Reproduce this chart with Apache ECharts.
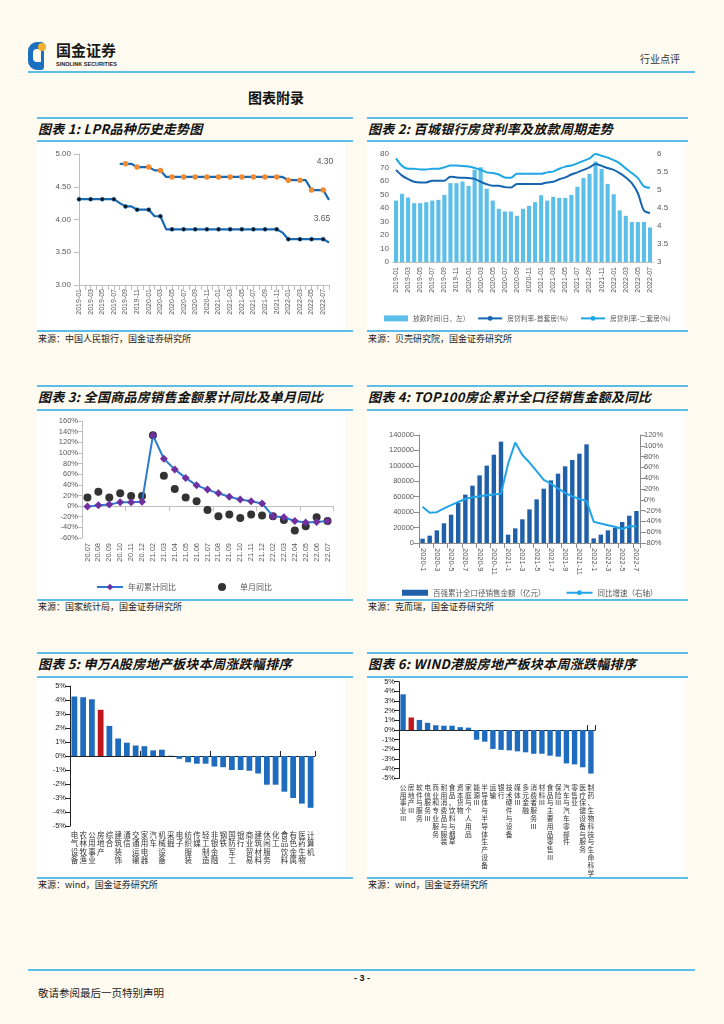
<!DOCTYPE html>
<html><head><meta charset="utf-8">
<script src="https://cdn.jsdelivr.net/npm/echarts@6/dist/echarts.min.js"></script>
<style>
body{margin:0;background:#fffbf0;width:724px;height:1024px;position:relative;overflow:hidden;font-family:"Noto Sans CJK SC",sans-serif;}
.bl{position:absolute;height:2px;background:#5cbde9;}
.card{position:absolute;background:#ffffff;}
.ttl{position:absolute;font-size:13px;line-height:15px;font-weight:bold;font-style:italic;color:#111;white-space:nowrap;letter-spacing:0.3px;}
.src{position:absolute;font-size:9px;line-height:11px;color:#222;white-space:nowrap;}
.t{position:absolute;white-space:nowrap;}
</style></head>
<body>
<!-- header -->
<div class="t" style="left:28px;top:42px;width:16px;height:28px;background:#1a6fc0;border-radius:9px 3px 3px 9px;"></div>
<div class="t" style="left:33px;top:49px;width:8px;height:13px;background:#fffbf0;border-radius:4px 0 0 4px;"></div>
<div class="t" style="left:38px;top:43px;width:8px;height:8px;background:#f0b030;border-radius:4px;"></div>
<div class="t" style="left:56px;top:41px;font-size:15px;line-height:18px;font-weight:bold;color:#1a1a1a;">国金证券</div>
<div class="t" style="left:56px;top:61px;font-size:5.5px;line-height:7px;font-weight:bold;color:#1a1a1a;font-family:'Liberation Sans',sans-serif;">SINOLINK SECURITIES</div>
<div class="t" style="left:640px;top:53px;font-size:10px;line-height:12px;color:#333;">行业点评</div>
<div class="bl" style="left:28px;top:71px;width:667px;"></div>
<div class="t" style="left:248px;top:89px;font-size:14px;line-height:16px;font-weight:bold;color:#111;">图表附录</div>

<!-- row 1 -->
<div class="bl" style="left:37px;top:117px;width:316px;"></div>
<div class="bl" style="left:367px;top:117px;width:321px;"></div>
<div class="ttl" style="left:38px;top:121px;">图表 1:  LPR品种历史走势图</div>
<div class="ttl" style="left:368px;top:121px;">图表 2:  百城银行房贷利率及放款周期走势</div>
<div class="bl" style="left:37px;top:140px;width:316px;"></div>
<div class="bl" style="left:367px;top:140px;width:321px;"></div>
<div id="c1" class="card" style="left:37px;top:142px;width:308px;height:188px;"></div>
<div id="c2" class="card" style="left:367px;top:142px;width:318px;height:188px;"></div>
<div class="bl" style="left:37px;top:330px;width:316px;"></div>
<div class="bl" style="left:367px;top:330px;width:321px;"></div>
<div class="src" style="left:38px;top:333px;">来源：中国人民银行，国金证券研究所</div>
<div class="src" style="left:368px;top:333px;">来源：贝壳研究院，国金证券研究所</div>

<!-- row 2 -->
<div class="bl" style="left:37px;top:385px;width:316px;"></div>
<div class="bl" style="left:367px;top:385px;width:321px;"></div>
<div class="ttl" style="left:38px;top:389px;">图表 3:  全国商品房销售金额累计同比及单月同比</div>
<div class="ttl" style="left:368px;top:389px;">图表 4:  TOP100房企累计全口径销售金额及同比</div>
<div class="bl" style="left:37px;top:409px;width:316px;"></div>
<div class="bl" style="left:367px;top:409px;width:321px;"></div>
<div id="c3" class="card" style="left:37px;top:411px;width:308px;height:188px;"></div>
<div id="c4" class="card" style="left:367px;top:411px;width:318px;height:188px;"></div>
<div class="bl" style="left:37px;top:599px;width:316px;"></div>
<div class="bl" style="left:367px;top:599px;width:321px;"></div>
<div class="src" style="left:38px;top:601px;">来源：国家统计局，国金证券研究所</div>
<div class="src" style="left:368px;top:601px;">来源：克而瑞，国金证券研究所</div>

<!-- row 3 -->
<div class="bl" style="left:37px;top:652px;width:316px;"></div>
<div class="bl" style="left:367px;top:652px;width:321px;"></div>
<div class="ttl" style="left:38px;top:656px;">图表 5:  申万A股房地产板块本周涨跌幅排序</div>
<div class="ttl" style="left:368px;top:656px;">图表 6:  WIND港股房地产板块本周涨跌幅排序</div>
<div class="bl" style="left:37px;top:676px;width:316px;"></div>
<div class="bl" style="left:367px;top:676px;width:321px;"></div>
<div id="c5" class="card" style="left:37px;top:678px;width:308px;height:199px;"></div>
<div id="c6" class="card" style="left:367px;top:678px;width:318px;height:199px;"></div>
<div class="bl" style="left:37px;top:877px;width:316px;"></div>
<div class="bl" style="left:367px;top:877px;width:321px;"></div>
<div class="src" style="left:38px;top:879px;">来源：wind，国金证券研究所</div>
<div class="src" style="left:368px;top:879px;">来源：wind，国金证券研究所</div>

<!-- footer -->
<div class="bl" style="left:28px;top:969px;width:667px;"></div>
<div class="t" style="left:342px;top:973px;width:40px;text-align:center;font-size:9px;line-height:11px;font-weight:bold;color:#111;font-family:'Liberation Sans',sans-serif;">- 3 -</div>
<div class="t" style="left:38px;top:986px;font-size:10.5px;line-height:13px;color:#222;">敬请参阅最后一页特别声明</div>

<script>
// ---------- Chart 1 data: LPR ----------
var lprMonths = ['2019-01','2019-02','2019-03','2019-04','2019-05','2019-06','2019-07','2019-08','2019-09','2019-10','2019-11','2019-12',
 '2020-01','2020-02','2020-03','2020-04','2020-05','2020-06','2020-07','2020-08','2020-09','2020-10','2020-11','2020-12',
 '2021-01','2021-02','2021-03','2021-04','2021-05','2021-06','2021-07','2021-08','2021-09','2021-10','2021-11','2021-12',
 '2022-01','2022-02','2022-03','2022-04','2022-05','2022-06','2022-07','2022-08'];
var lpr1y = [4.31,4.31,4.31,4.31,4.31,4.31,4.31,4.25,4.20,4.20,4.15,4.15,
 4.15,4.05,4.05,3.85,3.85,3.85,3.85,3.85,3.85,3.85,3.85,3.85,
 3.85,3.85,3.85,3.85,3.85,3.85,3.85,3.85,3.85,3.85,3.85,3.80,
 3.70,3.70,3.70,3.70,3.70,3.70,3.70,3.65];
var lpr5y = [null,null,null,null,null,null,null,4.85,4.85,4.85,4.80,4.80,
 4.80,4.75,4.75,4.65,4.65,4.65,4.65,4.65,4.65,4.65,4.65,4.65,
 4.65,4.65,4.65,4.65,4.65,4.65,4.65,4.65,4.65,4.65,4.65,4.65,
 4.60,4.60,4.60,4.60,4.45,4.45,4.45,4.30];

// ---------- Chart 2 data: mortgage ----------
var loanMonths = ['2019-01','2019-02','2019-03','2019-04','2019-05','2019-06','2019-07','2019-08','2019-09','2019-10','2019-11','2019-12',
 '2020-01','2020-02','2020-03','2020-04','2020-05','2020-06','2020-07','2020-08','2020-09','2020-10','2020-11','2020-12',
 '2021-01','2021-02','2021-03','2021-04','2021-05','2021-06','2021-07','2021-08','2021-09','2021-10','2021-11','2021-12',
 '2022-01','2022-02','2022-03','2022-04','2022-05','2022-06','2022-07'];
var loanDays = [45.5,50.5,47.8,43.6,43.6,44.3,45.5,46,49.7,58.4,58.4,59.6,
 56.4,68.2,70.2,54.2,45.5,39.4,37.4,37.4,34.2,39.4,41.6,44.3,
 49.5,45.5,48.3,47.5,47.5,49.7,55.7,62.3,65.3,74.4,69,57.9,
 50.2,38.2,34.2,29.6,29.6,29.6,25.6];
var rateFirst = [5.56,5.40,5.30,5.23,5.21,5.21,5.26,5.26,5.26,5.37,5.35,5.34,
 5.33,5.31,5.23,5.16,5.12,5.12,5.08,5.07,5.17,5.17,5.17,5.17,
 5.17,5.21,5.23,5.30,5.35,5.43,5.49,5.56,5.63,5.72,5.67,5.61,
 5.56,5.47,5.35,5.19,4.91,4.43,4.36];
var rateSecond = [5.88,5.67,5.59,5.59,5.57,5.57,5.59,5.59,5.63,5.68,5.68,5.67,
 5.65,5.61,5.56,5.49,5.47,5.43,5.35,5.34,5.45,5.45,5.45,5.45,
 5.45,5.49,5.51,5.59,5.65,5.68,5.74,5.81,5.88,6.00,5.95,5.90,
 5.83,5.74,5.60,5.47,5.33,5.10,5.06];

// ---------- Chart 3 data: sales YoY ----------
var salesMonths = ['20.07','20.08','20.09','20.10','20.11','20.12','21.02','21.03','21.04','21.05','21.06','21.07',
 '21.08','21.09','21.10','21.11','21.12','22.02','22.03','22.04','22.05','22.06','22.07'];
var ytdYoY = [-1,1.5,3,7,7,8,133,89,69,53,39,31,24,17.5,12.5,9,5,-19,-21,-28,-31,-30,-28];
var monthYoY = [16,27,16,24,19,19,133,57,32,16,9,-7.5,-19,-16,-22.5,-15.6,-17.5,-19,-26,-46,-38,-21,-28];

// ---------- Chart 4 data: TOP100 ----------
var top100Months = ['2020-1','2020-2','2020-3','2020-4','2020-5','2020-6','2020-7','2020-8','2020-9','2020-10','2020-11','2020-12',
 '2021-1','2021-2','2021-3','2021-4','2021-5','2021-6','2021-7','2021-8','2021-9','2021-10','2021-11','2021-12',
 '2022-1','2022-2','2022-3','2022-4','2022-5','2022-6','2022-7'];
var top100Sales = [5600,9500,16400,25500,36700,51900,62700,74300,87700,100300,114500,131400,
 10800,19000,30700,43600,56600,70400,81200,89900,99400,107600,115800,127900,
 6000,10800,16400,19900,27200,35400,41500];
var top100YoY = [-13,-24,-23,-16,-10,-4,1.5,4.6,6.4,8.3,10,11.4,
 67,106,83,69,53,37,30,21,13,6.4,1.5,-2,
 -40.5,-44,-47,-50,-54,-49,-49];

// ---------- Chart 5 data: SW A-share industries ----------
var swNames = ['电气设备','农林牧渔','公用事业','房地产','综合','建筑装饰','通信','交通运输','家用电器','汽车','机械设备','采掘',
 '电子','纺织服装','传媒','轻工制造','非银金融','钢铁','国防军工','银行','商业贸易','建筑材料','休闲服务','化工','食品饮料','有色金属','医药生物','计算机'];
var swChange = [4.25,4.2,4.05,3.3,2.15,1.25,0.95,0.75,0.7,0.4,0.45,0.02,
 -0.2,-0.45,-0.55,-0.55,-0.75,-0.8,-1.0,-1.0,-1.05,-1.25,-2.05,-2.05,-2.55,-3.0,-3.4,-3.7];
var swHighlight = '房地产';

// ---------- Chart 6 data: Wind HK industries ----------
var hkNames = ['公用事业Ⅲ','房地产Ⅲ','软件与服务','电信服务Ⅲ','商业和专业服务','耐用消费品与服装','食品、饮料与烟草','资本货物','家庭与个人用品',
 '能源Ⅲ','半导体与半导体生产设备','运输','银行','技术硬件与设备','媒体Ⅲ','多元金融','消费者服务Ⅲ','材料Ⅲ','食品与主要用品零售Ⅲ',
 '保险Ⅲ','汽车与汽车零部件','零售业','医疗保健设备与服务','制药、生物科技与生命科学'];
var hkChange = [3.7,1.3,1.05,0.75,0.5,0.45,0.45,0.3,0.25,-1.0,-1.2,-1.95,-2.05,-2.1,-2.2,-2.3,-2.45,-2.45,-2.65,-2.75,-3.45,-3.55,-3.85,-4.5];
var hkHighlight = '房地产Ⅲ';

// ---------- helpers ----------
var FONT = 'Liberation Sans, Noto Sans CJK SC, sans-serif';
var CJK = 'Noto Sans CJK SC, sans-serif';
var GRAY = '#595959';
function mk(id, opt){ var c = echarts.init(document.getElementById(id), null, {renderer:'canvas'}); opt.animation = false; c.setOption(opt); return c; }
function vert(s){ return s.split('').join('\n'); }

// ---------- Chart 1 ----------
var ch1 = mk('c1', {
  grid:{left:42, top:12, right:16, bottom:45},
  xAxis:{type:'category', data:lprMonths, boundaryGap:false,
    axisLine:{lineStyle:{color:'#bfbfbf'}}, axisTick:{show:true, interval:0, lineStyle:{color:'#bfbfbf'}},
    axisLabel:{rotate:90, interval:1, fontSize:7, color:GRAY, fontFamily:FONT, margin:4}},
  yAxis:{type:'value', min:3, max:5, interval:0.5, splitLine:{show:false},
    axisLine:{show:true, lineStyle:{color:'#bfbfbf'}}, axisTick:{show:true, lineStyle:{color:'#bfbfbf'}},
    axisLabel:{formatter:function(v){return v.toFixed(2);}, fontSize:8, color:GRAY, fontFamily:FONT}},
  series:[
    {type:'line', data:lpr1y,
     symbol:'circle', symbolSize:4, lineStyle:{color:'#1769b3', width:2.2},
     itemStyle:{color:'#111', borderColor:'#1769b3', borderWidth:0.6}},
    {type:'line', data:lpr5y,
     symbol:'circle', symbolSize:5.5, lineStyle:{color:'#1769b3', width:2.2},
     itemStyle:{color:'#f28a30', borderWidth:0}}
  ]
});
// end-value annotations placed at the library's pixel position of the last points
(function(){
  var i1 = lpr1y.length - 1, i5 = lpr5y.length - 1;
  var p1 = ch1.convertToPixel({seriesIndex:0}, [i1, lpr1y[i1]]);
  var p5 = ch1.convertToPixel({seriesIndex:1}, [i5, lpr5y[i5]]);
  ch1.setOption({graphic:[
    {type:'text', x:p5[0] - 4, y:p5[1] - 38, style:{text:lpr5y[i5].toFixed(2), fill:GRAY, font:'8.5px Liberation Sans', textAlign:'center', textVerticalAlign:'middle'}},
    {type:'text', x:p1[0] - 7, y:p1[1] - 24, style:{text:lpr1y[i1].toFixed(2), fill:GRAY, font:'8.5px Liberation Sans', textAlign:'center', textVerticalAlign:'middle'}}
  ]});
})();

// ---------- Chart 2 ----------
mk('c2', {
  grid:{left:26, top:12, right:32, bottom:68},
  legend:{left:12, top:168, width:310, itemGap:12, itemHeight:6, itemWidth:24, textStyle:{fontSize:6.8, color:GRAY, fontFamily:CJK},
    data:[{name:'放款时间(日，左)', icon:'rect'}, {name:'房贷利率-首套房(%)'}, {name:'房贷利率-二套房(%)'}]},
  xAxis:{type:'category', data:loanMonths,
    axisLine:{lineStyle:{color:'#bfbfbf'}}, axisTick:{show:false},
    axisLabel:{rotate:90, interval:1, fontSize:7, color:GRAY, fontFamily:FONT, margin:5}},
  yAxis:[
    {type:'value', min:0, max:80, interval:10, splitLine:{show:false}, axisLine:{show:false}, axisTick:{show:false},
     axisLabel:{fontSize:8, color:GRAY, fontFamily:FONT, margin:4}},
    {type:'value', min:3, max:6, interval:0.5, splitLine:{show:false}, axisLine:{show:false}, axisTick:{show:false},
     axisLabel:{fontSize:8, color:GRAY, fontFamily:FONT, margin:4}}
  ],
  series:[
    {name:'放款时间(日，左)', type:'bar', data:loanDays, barWidth:'68%', itemStyle:{color:'#5cbfea'}},
    {name:'房贷利率-首套房(%)', type:'line', yAxisIndex:1, data:rateFirst, symbol:'none', smooth:0.3, lineStyle:{color:'#1565b0', width:2}, itemStyle:{color:'#1565b0'}},
    {name:'房贷利率-二套房(%)', type:'line', yAxisIndex:1, data:rateSecond, symbol:'none', smooth:0.3, lineStyle:{color:'#1ea6e6', width:2}, itemStyle:{color:'#1ea6e6'}}
  ]
});

// ---------- Chart 3 ----------
mk('c3', {
  grid:{left:45, top:10, right:12, bottom:61},
  legend:{left:54, top:167, itemGap:42, itemWidth:26, itemHeight:8, textStyle:{fontSize:8, color:GRAY, fontFamily:CJK},
    data:['年初累计同比','单月同比']},
  xAxis:[
    {type:'category', data:salesMonths, position:'bottom', axisLine:{show:false, onZero:false}, axisTick:{show:false},
     axisLabel:{rotate:90, interval:0, fontSize:7.5, color:GRAY, fontFamily:FONT, margin:5}},
    {type:'category', data:salesMonths, position:'bottom', axisLine:{show:true, onZero:true, lineStyle:{color:'#bfbfbf'}},
     axisTick:{show:true, lineStyle:{color:'#bfbfbf'}}, axisLabel:{show:false}}
  ],
  yAxis:{type:'value', min:-60, max:160, interval:20, splitLine:{show:false},
    axisLine:{show:true, lineStyle:{color:'#bfbfbf'}}, axisTick:{show:true, lineStyle:{color:'#bfbfbf'}},
    axisLabel:{formatter:'{value}%', fontSize:7.5, color:GRAY, fontFamily:FONT, margin:4}},
  series:[
    {name:'年初累计同比', type:'line', data:ytdYoY, symbol:'diamond', symbolSize:8,
     lineStyle:{color:'#2b7bd0', width:2}, itemStyle:{color:'#7030a0'}},
    {name:'单月同比', type:'scatter', data:monthYoY, symbol:'circle', symbolSize:8, itemStyle:{color:'#000'}}
  ]
});

// ---------- Chart 4 ----------
mk('c4', {
  grid:{left:52, top:24, right:45, bottom:56},
  legend:{left:30, top:173, itemGap:20, itemWidth:26, itemHeight:6, textStyle:{fontSize:7.5, color:GRAY, fontFamily:CJK},
    data:[{name:'百强累计全口径销售金额（亿元）', icon:'rect'}, {name:'同比增速（右轴）'}]},
  xAxis:{type:'category', data:top100Months,
    axisLine:{lineStyle:{color:'#8c8c8c'}}, axisTick:{show:true, lineStyle:{color:'#8c8c8c'}},
    axisLabel:{rotate:-90, interval:1, fontSize:7.5, color:GRAY, fontFamily:FONT, margin:5}},
  yAxis:[
    {type:'value', min:0, max:140000, interval:20000, splitLine:{show:false},
     axisLine:{show:true, lineStyle:{color:'#8c8c8c'}}, axisTick:{show:true, lineStyle:{color:'#8c8c8c'}},
     axisLabel:{formatter:function(v){ return String(v); }, fontSize:7.5, color:GRAY, fontFamily:FONT, margin:5}},
    {type:'value', min:-80, max:120, interval:20, splitLine:{show:false},
     axisLine:{show:true, lineStyle:{color:'#8c8c8c'}}, axisTick:{show:true, lineStyle:{color:'#8c8c8c'}},
     axisLabel:{formatter:'{value}%', fontSize:7.5, color:GRAY, fontFamily:FONT, margin:4}}
  ],
  series:[
    {name:'百强累计全口径销售金额（亿元）', type:'bar', data:top100Sales, barWidth:'62%', itemStyle:{color:'#1f60a9'}},
    {name:'同比增速（右轴）', type:'line', yAxisIndex:1, data:top100YoY, symbol:'none', lineStyle:{color:'#22a5e8', width:2}, itemStyle:{color:'#22a5e8'}}
  ]
});

// ---------- Chart 5 & 6 ----------
function rankOpt(names, values, highlight, grid, fs, lh){
  return {
    grid:grid,
    xAxis:[
      {type:'category', data:names, position:'bottom', axisLine:{show:false, onZero:false}, axisTick:{show:false},
       axisLabel:{interval:0, fontSize:fs, lineHeight:lh, color:'#333', fontFamily:CJK, margin:5, verticalAlign:'top', formatter:vert}},
      {type:'category', data:names, position:'bottom', axisLine:{show:true, onZero:true, lineStyle:{color:'#222'}},
       axisTick:{show:true, inside:true, lineStyle:{color:'#222'}}, axisLabel:{show:false}}
    ],
    yAxis:{type:'value', min:-5, max:5, interval:1, splitLine:{show:false},
      axisLine:{show:true, lineStyle:{color:'#222'}}, axisTick:{show:true, lineStyle:{color:'#222'}},
      axisLabel:{formatter:'{value}%', fontSize:7.5, color:'#222', fontFamily:FONT, margin:4}},
    series:[{type:'bar', barWidth:'66%',
      data:values.map(function(v,i){ return {value:v, itemStyle:{color: names[i]===highlight ? '#c0161c' : '#1f6cbf'}}; })}]
  };
}
mk('c5', rankOpt(swNames, swChange, swHighlight, {left:33, top:8, right:30, bottom:51}, 7.5, 8.3));
mk('c6', rankOpt(hkNames, hkChange, hkHighlight, {left:32, top:3, right:90, bottom:97}, 6.8, 7.8));
</script>
</body></html>
